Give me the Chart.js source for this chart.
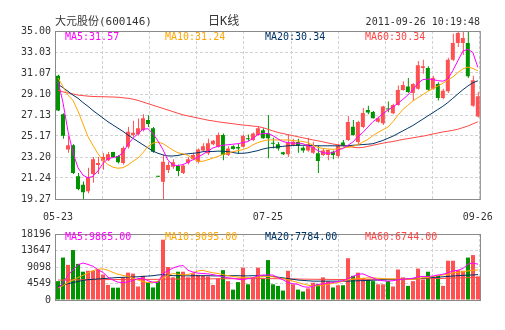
<!DOCTYPE html>
<html>
<head>
<meta charset="utf-8">
<script src="https://cdn.jsdelivr.net/npm/chart.js@4.4.1/dist/chart.umd.min.js"></script>
<style>
  body { margin: 0; background: #fff; }
  #wrap { position: relative; width: 505px; height: 330px; overflow: hidden;
          font-family: 'DejaVu Sans Mono', 'Noto Sans CJK SC', monospace; font-size: 10px; color: #333; }
  canvas { position: absolute; left: 0; }
  .t { position: absolute; white-space: nowrap; line-height: 12px; }
</style>
</head>
<body>
<div id="wrap">
  <canvas id="kline" width="505" height="224" style="top:0"></canvas>
  <canvas id="vol" width="505" height="106" style="top:224px"></canvas>
  <div class="t" style="left:55px;top:15px;font-size:11px;line-height:13px">大元股份(600146)</div>
  <div class="t" style="left:208px;top:15px;font-size:12px;line-height:13px">日K线</div>
  <div class="t" style="right:25px;top:16px">2011-09-26 10:19:48</div>
  <div id="legendK"></div>
  <div id="legendV"></div>
</div>
<script>
// 大元股份 daily candles, 2011-05-23 .. 2011-09-26
const dates = [
  '05-23','05-24','05-25','05-26','05-27','05-30','05-31',
  '06-01','06-02','06-03','06-07','06-08','06-09','06-10','06-13','06-14','06-15','06-16','06-17',
  '06-20','06-21','06-22','06-23','06-24','06-27','06-28','06-29','06-30',
  '07-01','07-04','07-05','07-06','07-07','07-08','07-11','07-12','07-15','07-18','07-19','07-20','07-21','07-22',
  '07-25','07-26','07-27','07-28','07-29',
  '08-01','08-02','08-03','08-04','08-05','08-08','08-09','08-10','08-11','08-12','08-15','08-16','08-19',
  '08-22','08-23','08-24','08-25','08-26','08-29','08-30','08-31',
  '09-01','09-02','09-05','09-06','09-07','09-08','09-09','09-13','09-14','09-15','09-16',
  '09-19','09-20','09-21','09-22','09-23','09-26'
];
const shownDates = ['05-23', '07-25', '09-26'];

const open = [30.8, 27.2, 23.9, 24.3, 21.4, 20.6, 20.0, 21.6, 22.45, 22.86,
  22.9, 23.67, 23.3, 22.64, 24.17, 25.26, 25.33, 25.73, 26.67, 25.9,
  21.4, 20.89, 21.99, 22.3, 22.36, 21.7, 22.67, 23.0, 22.76, 23.8,
  23.55, 24.4, 24.17, 25.26, 23.4, 24.2, 24.15, 24.17, 24.96, 24.8,
  25.26, 25.7, 25.42, 24.5, 24.4, 23.65, 23.45, 24.33, 24.6, 24.07,
  23.8, 23.6, 23.55, 23.4, 23.39, 23.7, 23.3, 24.55, 24.8, 26.04,
  24.6, 26.0, 27.6, 27.42, 26.5, 26.36, 27.7, 27.3, 28.07, 29.47,
  29.8, 29.2, 29.6, 31.54, 31.54, 29.6, 30.04, 28.73, 29.35, 32.31,
  33.88, 33.88, 33.88, 28.0, 27.0];
const high = [30.9, 27.3, 25.2, 24.4, 21.7, 20.9, 22.2, 23.2, 23.2, 23.55,
  23.67, 23.7, 23.4, 24.2, 26.0, 26.6, 26.8, 27.2, 27.1, 26.0,
  21.42, 23.39, 22.76, 23.0, 22.5, 22.5, 23.2, 23.6, 24.0, 24.5,
  24.9, 24.8, 25.5, 25.4, 24.2, 24.3, 24.5, 25.3, 25.3, 25.5,
  26.1, 25.9, 27.13, 25.0, 24.6, 23.7, 25.3, 24.9, 24.9, 24.2,
  25.0, 24.6, 24.3, 24.0, 23.9, 23.8, 24.4, 24.8, 27.04, 26.67,
  26.6, 27.8, 28.0, 27.5, 27.0, 28.0, 28.4, 28.2, 29.9, 30.3,
  30.6, 30.1, 32.2, 32.3, 31.7, 30.8, 30.2, 29.6, 32.5, 34.75,
  35.0, 35.0, 35.0, 30.8, 29.3];
const low = [27.5, 24.9, 23.6, 21.6, 20.1, 19.27, 19.8, 20.8, 21.6, 22.0,
  22.8, 23.1, 22.6, 22.5, 24.0, 25.1, 25.2, 25.6, 26.0, 23.6,
  21.33, 19.27, 21.7, 22.1, 21.4, 21.6, 22.5, 22.9, 22.6, 23.7,
  23.4, 24.3, 24.1, 22.9, 23.3, 23.9, 23.5, 24.1, 24.7, 24.7,
  25.2, 24.9, 23.08, 24.0, 23.8, 23.4, 23.2, 24.2, 23.6, 23.6,
  23.7, 23.5, 21.7, 23.3, 22.9, 23.0, 23.1, 24.2, 24.7, 25.2,
  24.4, 25.9, 27.2, 26.8, 26.4, 26.2, 27.4, 27.2, 28.0, 29.4,
  29.2, 28.45, 29.5, 31.0, 29.4, 29.5, 28.5, 28.6, 29.2, 32.2,
  33.5, 32.75, 30.6, 27.9, 26.9];
const close = [27.55, 25.2, 24.3, 21.7, 20.2, 19.9, 21.3, 23.0, 22.65, 23.2,
  23.45, 23.17, 22.7, 24.05, 25.57, 25.48, 25.9, 26.82, 26.29, 23.7,
  21.36, 22.76, 22.45, 22.7, 21.9, 22.4, 23.0, 23.4, 23.9, 24.2,
  24.5, 24.73, 25.26, 23.4, 24.0, 23.95, 24.0, 25.17, 24.86, 25.4,
  25.9, 24.95, 24.95, 24.45, 24.0, 23.45, 24.55, 24.64, 24.26, 23.8,
  24.4, 24.17, 22.83, 23.8, 23.86, 23.4, 24.26, 24.26, 26.48, 25.26,
  26.48, 27.32, 27.37, 26.83, 26.83, 27.92, 27.65, 28.07, 29.47, 29.94,
  29.3, 30.03, 31.79, 31.7, 29.5, 30.6, 28.73, 29.41, 32.31, 33.88,
  34.81, 34.34, 30.76, 30.4, 28.9];

const ma5 = [30.3, 28.3, 25.6, 23.6, 22.2, 21.5, 21.25, 21.4, 21.9, 22.6,
  23.05, 23.15, 23.25, 23.6, 24.4, 24.95, 25.4, 25.8, 25.85, 25.4,
  24.7, 23.9, 22.9, 22.45, 22.4, 22.5, 22.7, 22.95, 23.2, 23.45,
  23.75, 24.05, 24.2, 24.3, 24.35, 24.4, 24.45, 24.55, 24.65, 24.95,
  25.3, 25.4, 25.4, 25.2, 24.9, 24.65, 24.55, 24.5, 24.5, 24.45,
  24.25, 24.1, 23.8, 23.6, 23.55, 23.6, 23.85, 24.0, 24.3, 24.6,
  25.1, 25.5, 26.0, 26.5, 26.85, 27.25, 27.6, 27.9, 28.2, 28.6,
  29.0, 29.5, 30.1, 30.45, 30.5, 30.45, 30.35, 30.3, 30.5, 31.3,
  32.2, 33.1, 33.3, 33.0, 31.6];
const ma10 = [30.6, 29.8, 29.0, 28.5, 27.5, 26.3, 25.1, 24.3, 23.5, 22.9,
  22.5, 22.25, 22.15, 22.2, 22.45, 22.8, 23.1, 23.6, 24.2, 24.5,
  24.6, 24.45, 24.15, 23.85, 23.6, 23.5, 23.35, 23.05, 22.8, 22.8,
  22.95, 23.1, 23.25, 23.45, 23.55, 23.7, 23.8, 23.9, 24.05, 24.35,
  24.55, 24.7, 24.8, 24.8, 24.8, 24.8, 24.8, 24.75, 24.7, 24.65,
  24.55, 24.3, 24.1, 24.0, 23.95, 23.92, 23.95, 24.05, 24.1, 24.2,
  24.35, 24.6, 24.85, 25.2, 25.5, 25.75, 26.0, 26.5, 27.1, 27.65,
  28.05, 28.45, 28.75, 29.05, 29.35, 29.6, 29.85, 30.1, 30.4, 30.7,
  31.1, 31.45, 31.62, 31.5, 31.28];
const ma20 = [30.0, 29.7, 29.35, 29.0, 28.7, 28.3, 27.95, 27.55, 27.2, 26.85,
  26.5, 26.2, 25.9, 25.6, 25.25, 24.95, 24.65, 24.35, 24.05, 23.75,
  23.55, 23.4, 23.3, 23.3, 23.35, 23.45, 23.5, 23.55, 23.6, 23.7,
  23.72, 23.72, 23.75, 23.75, 23.7, 23.62, 23.55, 23.55, 23.6, 23.7,
  23.8, 23.95, 24.05, 24.1, 24.15, 24.2, 24.25, 24.28, 24.3, 24.3,
  24.3, 24.28, 24.25, 24.25, 24.25, 24.25, 24.25, 24.25, 24.25, 24.3,
  24.33, 24.37, 24.4, 24.45, 24.6, 24.75, 24.95, 25.15, 25.4, 25.65,
  25.9, 26.15, 26.45, 26.75, 27.05, 27.35, 27.65, 27.95, 28.3, 28.7,
  29.1, 29.5, 29.85, 30.15, 30.34];
const ma60 = [29.45, 29.3, 29.2, 29.1, 29.0, 28.95, 28.9, 28.87, 28.85, 28.85,
  28.83, 28.82, 28.8, 28.75, 28.7, 28.62, 28.5, 28.35, 28.2, 28.05,
  27.9, 27.75, 27.6, 27.45, 27.3, 27.15, 27.05, 26.95, 26.85, 26.75,
  26.65, 26.58, 26.5, 26.43, 26.38, 26.32, 26.25, 26.2, 26.15, 26.1,
  26.05, 25.95, 25.8, 25.65, 25.5, 25.4, 25.3, 25.2, 25.1, 25.0,
  24.9, 24.8, 24.72, 24.62, 24.52, 24.42, 24.35, 24.27, 24.2, 24.12,
  24.07, 24.1, 24.2, 24.3, 24.4, 24.5, 24.58, 24.65, 24.75, 24.85,
  24.92, 25.0, 25.08, 25.15, 25.25, 25.35, 25.45, 25.55, 25.62, 25.7,
  25.8, 25.95, 26.1, 26.3, 26.5];

const volume = [5200, 11700, 9700, 13770, 9960, 7800, 8060, 8060, 8400, 7000,
  4160, 3400, 3400, 6240, 7540, 7280, 3720, 6670, 4940, 3460,
  5200, 16630, 9100, 6240, 7800, 7800, 6240, 7360, 6930, 6670,
  6500, 4160, 5890, 8230, 5200, 2860, 4940, 8920, 4330, 6200,
  8920, 5800, 11000, 4330, 3900, 2600, 8060, 4330, 2860, 2340,
  3200, 4760, 4330, 6240, 5200, 3460, 4070, 4070, 11520, 6670,
  7540, 6060, 5640, 5200, 4330, 4330, 5200, 3720, 8400, 6240,
  3900, 5200, 8660, 5640, 7800, 6240, 6670, 3900, 10830, 10830,
  8230, 8060, 11700, 12390, 6500];
const vma5 = [3100, 4800, 6800, 8300, 9700, 10200, 9800, 9300, 8300, 7600,
  6300, 5500, 4900, 4800, 5000, 5400, 5900, 6000, 5300, 4900,
  4800, 7300, 8100, 8800, 9300, 9500, 8200, 7700, 7400, 7300,
  7200, 7000, 6700, 6400, 6100, 6000, 5700, 5600, 5900, 6100,
  6700, 6900, 6900, 6900, 6100, 5600, 4800, 4500, 4300, 3700,
  3500, 3800, 4300, 4400, 4700, 4800, 5100, 5300, 5900, 6500,
  7100, 7200, 6600, 6100, 5500, 5300, 5200, 5300, 5600, 5700,
  5800, 6000, 6400, 6500, 6500, 6600, 6900, 7100, 7500, 8000,
  8200, 8700, 9900, 10200, 9865];
const vma10 = [3300, 4000, 4800, 5500, 6200, 6800, 7500, 8100, 8500, 8600,
  8200, 7600, 7100, 6800, 6500, 6000, 5500, 5100, 4800, 4900,
  5200, 6000, 6800, 7300, 7100, 6900, 7000, 7500, 8000, 8200,
  7800, 7500, 7300, 7000, 6700, 6500, 6300, 6200, 6100, 6100,
  6300, 6400, 6500, 6400, 6100, 5900, 5600, 5200, 4800, 4400,
  4100, 3900, 3900, 4100, 4300, 4600, 4800, 5200, 5600, 5800,
  5900, 6000, 6100, 6100, 6000, 5900, 5800, 5800, 5750, 5700,
  5650, 5700, 5900, 6100, 6200, 6500, 6700, 6900, 7100, 7500,
  7600, 7800, 8000, 8200, 8300];
const vma20 = [3700, 4100, 4500, 4800, 5100, 5400, 5600, 5700, 5800, 5900,
  6000, 6100, 6200, 6250, 6300, 6350, 6400, 6500, 6600, 6700,
  6900, 7000, 6800, 6700, 6700, 6700, 6650, 6700, 6700, 6700,
  6700, 6650, 6650, 6700, 6700, 6700, 6700, 6650, 6650, 6700,
  6700, 6650, 6600, 6500, 6300, 6100, 5900, 5700, 5500, 5400,
  5300, 5200, 5200, 5200, 5200, 5200, 5200, 5200, 5200, 5250,
  5300, 5350, 5400, 5450, 5500, 5550, 5600, 5600, 5650, 5700,
  5750, 5800, 5900, 6000, 6100, 6200, 6300, 6400, 6500, 6600,
  6700, 6800, 6850, 6900, 7000];
const vma60 = [5500, 5500, 5520, 5540, 5560, 5580, 5600, 5600, 5610, 5620,
  5630, 5640, 5640, 5650, 5660, 5660, 5670, 5680, 5680, 5690,
  5700, 5740, 5760, 5770, 5780, 5790, 5800, 5810, 5820, 5830,
  5840, 5840, 5850, 5860, 5860, 5870, 5870, 5880, 5880, 5890,
  5890, 5900, 5900, 5880, 5860, 5840, 5820, 5800, 5780, 5760,
  5740, 5720, 5700, 5690, 5680, 5670, 5660, 5660, 5670, 5680,
  5690, 5700, 5710, 5720, 5730, 5740, 5750, 5760, 5770, 5780,
  5800, 5820, 5840, 5860, 5880, 5900, 5930, 5960, 6000, 6040,
  6080, 6120, 6160, 6200, 6250];

const priceTicks = [19.27, 21.24, 23.20, 25.17, 27.13, 29.10, 31.07, 33.03, 35.00];
const volTicks = [0, 4549, 9098, 13647, 18196];

const maNames = ['MA5', 'MA10', 'MA20', 'MA60'];
const priceMaLast = [31.57, 31.24, 30.34, 30.34];
const volMaLast = [9865, 9095, 7784, 6744];

const RED = '#ff5151';
const GREEN = '#009400';
const MA_COLORS = ['#ff00ff', '#ffa500', '#003366', '#ff4545'];
const GRID = '#d2d2d2';

Chart.defaults.font.family = "'DejaVu Sans Mono', monospace";
Chart.defaults.font.size = 10;
Chart.defaults.color = '#333';

const candleColors = close.map((c, i) => c >= open[i] ? RED : GREEN);
const pts = arr => arr.map((v, i) => ({ x: i, y: v }));

const lineSet = (arr, n) => ({
  type: 'line', data: pts(arr), borderColor: MA_COLORS[n], borderWidth: 1,
  pointRadius: 0, tension: 0, order: n
});

// border round the plot area
const frame = {
  id: 'frame',
  afterDraw(chart) {
    const { ctx, chartArea: a } = chart;
    ctx.save();
    ctx.strokeStyle = '#8a8a8a';
    ctx.lineWidth = 1;
    ctx.strokeRect(a.left + 0.5, a.top + 0.5, a.right - a.left, a.bottom - a.top);
    ctx.restore();
  }
};

const xRange = { type: 'linear', min: -0.6, max: dates.length - 0.6, offset: false };
const gridAxis = {
  type: 'linear', position: 'top', min: 0, max: 8,
  ticks: { display: false, stepSize: 1 },
  grid: { color: GRID, drawTicks: false },
  border: { display: false, dash: [3, 2] },
  afterFit: s => { s.height = 0; }
};

new Chart(document.getElementById('kline'), {
  type: 'bar',
  data: {
    datasets: [
      lineSet(ma5, 0), lineSet(ma10, 1), lineSet(ma20, 2), lineSet(ma60, 3),
      {
        data: open.map((o, i) => ({ x: i, y: [o, close[i]] })),
        backgroundColor: candleColors, barThickness: 4, minBarLength: 1,
        grouped: false, inflateAmount: 0, borderWidth: 0, order: 4
      },
      {
        data: low.map((l, i) => ({ x: i + 0.1, y: [l, high[i]] })),
        backgroundColor: candleColors, barThickness: 1,
        grouped: false, inflateAmount: 0, borderWidth: 0, order: 5
      }
    ]
  },
  options: {
    responsive: false,
    animation: false,
    events: [],
    layout: { padding: { top: 31, right: 25, bottom: 0, left: 0 } },
    plugins: { legend: { display: false }, tooltip: { enabled: false } },
    scales: {
      x: {
        ...xRange,
        grid: { display: false, drawTicks: false, offset: false },
        border: { display: false },
        afterBuildTicks: s => { s.ticks = shownDates.map(d => ({ value: dates.indexOf(d) })); },
        ticks: { autoSkip: false, maxRotation: 0, padding: 12, callback: v => dates[v] },
        afterFit: s => { s.height = 25; }
      },
      xg: gridAxis,
      y: {
        min: priceTicks[0], max: priceTicks[priceTicks.length - 1], beginAtZero: false,
        afterBuildTicks: s => { s.ticks = priceTicks.map(v => ({ value: v })); },
        ticks: { padding: 4, callback: v => v.toFixed(2) },
        grid: { color: GRID, drawTicks: false },
        border: { display: false, dash: [3, 2] },
        afterFit: s => { s.width = 55; }
      }
    }
  },
  plugins: [frame]
});

new Chart(document.getElementById('vol'), {
  type: 'bar',
  data: {
    datasets: [
      lineSet(vma5, 0), lineSet(vma10, 1), lineSet(vma20, 2), lineSet(vma60, 3),
      {
        data: pts(volume),
        backgroundColor: candleColors, barThickness: 4,
        inflateAmount: 0, borderWidth: 0, order: 4
      }
    ]
  },
  options: {
    responsive: false,
    animation: false,
    events: [],
    layout: { padding: { top: 6, right: 25, bottom: 30, left: 0 } },
    plugins: { legend: { display: false }, tooltip: { enabled: false } },
    scales: {
      x: { ...xRange, display: false },
      xg: gridAxis,
      y: {
        min: 0, max: volTicks[volTicks.length - 1],
        afterBuildTicks: s => { s.ticks = volTicks.map(v => ({ value: v })); },
        ticks: { padding: 4, callback: v => String(v) },
        grid: { color: GRID, drawTicks: false },
        border: { display: false, dash: [3, 2] },
        afterFit: s => { s.width = 55; }
      }
    }
  },
  plugins: [frame]
});

// MA readouts inside the plot areas
function legend(id, top, values, fmt) {
  const box = document.getElementById(id);
  values.forEach((v, n) => {
    const d = document.createElement('div');
    d.className = 't';
    d.style.left = (65 + n * 100) + 'px';
    d.style.top = top + 'px';
    d.style.color = MA_COLORS[n];
    d.textContent = maNames[n] + ':' + fmt(v);
    box.appendChild(d);
  });
}
legend('legendK', 31, priceMaLast, v => v.toFixed(2));
legend('legendV', 231, volMaLast, v => v.toFixed(2));
</script>
</body>
</html>
